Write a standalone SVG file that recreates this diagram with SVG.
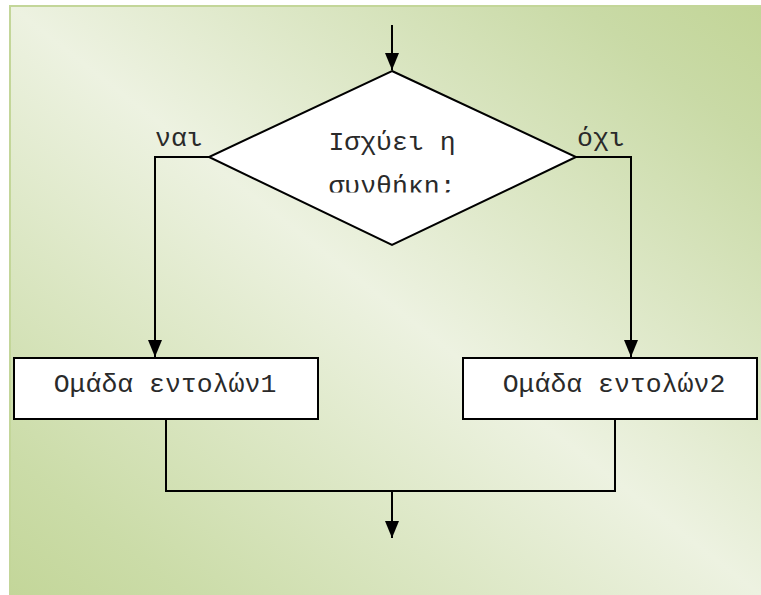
<svg xmlns="http://www.w3.org/2000/svg" width="761" height="595" viewBox="0 0 761 595">
<defs>
<linearGradient id="bg" x1="1" y1="0" x2="0" y2="1">
<stop offset="0" stop-color="#c2d597"/>
<stop offset="0.12" stop-color="#c9daa6"/>
<stop offset="0.5" stop-color="#edf2e1"/>
<stop offset="0.88" stop-color="#cbdca8"/>
<stop offset="1" stop-color="#c3d699"/>
</linearGradient>
<marker id="ah" viewBox="0 0 17 14" refX="17" refY="7" markerWidth="17" markerHeight="14" markerUnits="userSpaceOnUse" orient="auto">
<path d="M0,0 L17,7 L0,14 Z" fill="#000"/>
</marker>
<clipPath id="dclip"><rect x="200" y="60" width="400" height="132.5"/></clipPath>
</defs>
<style>
.ln{fill:none;stroke:#000;stroke-width:2}
.box{fill:#fff;stroke:#000;stroke-width:2}
.t{font-family:"Liberation Mono","Courier New",monospace;font-size:26.5px;fill:#2a2a2a}
</style>
<rect x="0" y="0" width="761" height="595" fill="#fff"/>
<rect x="9" y="5" width="752" height="590" fill="url(#bg)"/>
<path d="M10,595 L10,6 L761,6" fill="none" stroke="#c3d699" stroke-width="2"/>
<g id="connectors">
<line class="ln" x1="392" y1="25" x2="392" y2="70" marker-end="url(#ah)"/>
<polyline class="ln" points="209,157 155,157 155,357" marker-end="url(#ah)"/>
<polyline class="ln" points="576,157 631,157 631,357" marker-end="url(#ah)"/>
<polyline class="ln" points="166,419 166,491 615,491 615,419"/>
<line class="ln" x1="392" y1="491" x2="392" y2="538" marker-end="url(#ah)"/>
<text class="t" x="155" y="146">ναι</text>
<text class="t" x="577" y="146">όχι</text>
</g>
<g id="decision">
<polygon class="box" points="392,71 576,157 392,245 209,157"/>
<g clip-path="url(#dclip)">
<text class="t" x="392" y="150" text-anchor="middle">Ισχύει η</text>
<text class="t" x="392" y="194" text-anchor="middle">συνθήκη;</text>
</g>
</g>
<g id="block1">
<rect class="box" x="14" y="358" width="304" height="61"/>
<text class="t" x="165" y="392" text-anchor="middle">Ομάδα εντολών1</text>
</g>
<g id="block2">
<rect class="box" x="463" y="358" width="294" height="61"/>
<text class="t" x="614" y="392" text-anchor="middle">Ομάδα εντολών2</text>
</g>
</svg>
